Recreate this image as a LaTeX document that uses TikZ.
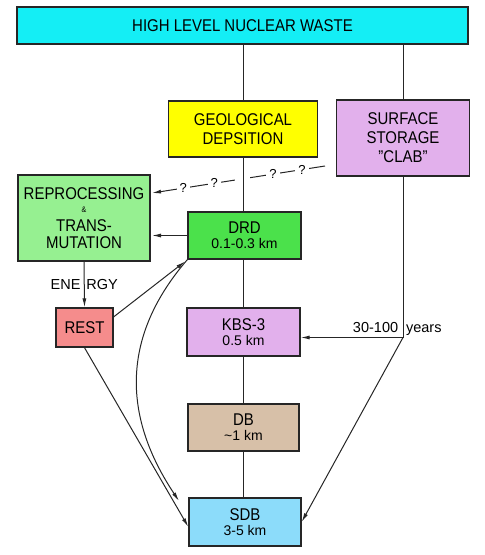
\documentclass[tikz,border=0pt]{standalone}
\usepackage{fontspec}
\setmainfont{Liberation Sans}[FakeStretch=0.88]
\newfontfamily\plainsans{Liberation Sans}
\usepackage{tikz}
\usetikzlibrary{positioning,calc}
\usetikzlibrary{arrows.meta}
\definecolor{wastecyan}{RGB}{20,238,245}
\definecolor{geoyellow}{RGB}{255,255,0}
\definecolor{lilac}{RGB}{226,176,236}
\definecolor{repgreen}{RGB}{150,240,145}
\definecolor{drdgreen}{RGB}{75,225,75}
\definecolor{restred}{RGB}{245,140,140}
\definecolor{dbtan}{RGB}{215,192,168}
\definecolor{sdbblue}{RGB}{140,220,250}
\tikzstyle{box} = [rectangle, draw=black!85, line width=1.3pt, inner sep=0pt,
text centered, align=center, font=\fontsize{17}{19}\selectfont]
\tikzstyle{link} = [line width=1pt, draw=black!85]
\tikzstyle{arrow} = [->,>={Latex[length=9pt,width=4pt]}]
\tikzstyle{qmark} = [fill=white, inner xsep=3pt, inner ysep=1pt, font=\plainsans\fontsize{13}{13}\selectfont]
\tikzstyle{gap} = [fill=white, minimum width=15pt, minimum height=5pt, inner sep=0pt]
\tikzstyle{note} = [font=\plainsans\fontsize{14.5}{17}\selectfont]
\newcommand{\sub}[1]{{\plainsans\fontsize{14}{16}\selectfont #1}}

\begin{document}
\begin{tikzpicture}[x=1pt,y=-1pt]
					\useasboundingbox (0,0) rectangle (485,555);
					\node (waste) at (242.5,25.5) [box, fill=wastecyan, minimum width=451pt, minimum height=37pt] {HIGH LEVEL NUCLEAR WASTE};
					\node (geo) at (243,129) [box, fill=geoyellow, minimum width=149pt, minimum height=56pt] {GEOLOGICAL\\DEPSITION};
					\node (surface) at (403,138) [box, fill=lilac, minimum width=133pt, minimum height=76pt] {SURFACE\\STORAGE\\"CLAB"};
					\node (repro) at (84,218) [box, fill=repgreen, minimum width=132pt, minimum height=86pt] {REPROCESSING\\[-6pt]{\fontsize{8}{9}\selectfont\&}\\[0pt]TRANS-\\[-2pt]MUTATION};
					\node (drd) at (244.5,235.5) [box, fill=drdgreen, minimum width=113pt, minimum height=47pt] {DRD\\[-4pt]\sub{0.1-0.3 km}};
					\node (rest) at (84.5,327.5) [box, fill=restred, minimum width=57pt, minimum height=39pt] {REST};
					\node (kbs) at (243.5,332) [box, fill=lilac, minimum width=113pt, minimum height=48pt] {KBS-3\\[-4pt]\sub{0.5 km}};
					\node (db) at (243.5,427.5) [box, fill=dbtan, minimum width=111pt, minimum height=47pt] {DB\\[-4pt]\sub{\textasciitilde 1 km}};
					\node (sdb) at (245,522) [box, fill=sdbblue, minimum width=112pt, minimum height=48pt] {SDB\\[-4pt]\sub{3-5 km}};
					\coordinate (qs) at (325,166);
					\coordinate (qr) at (152,193);
					\coordinate (bend) at (403,337.5);
					\coordinate (c1) at (179,501);
					% open question: surface storage back to reprocessing
					\draw[link, arrow] (qs) -- node[qmark, pos=0.133] {?} node[qmark, pos=0.30] {?} node[gap, pos=0.474] {} node[qmark, pos=0.64] {?} node[qmark, pos=0.82] {?} (qr);
					\draw[link] (geo.north |- waste.south) -- (geo.north);
					\draw[link] (surface.north |- waste.south) -- (surface.north);
					\draw[link] (geo.south) -- (geo.south |- drd.north);
					\draw[link] (geo.south |- drd.south) -- (geo.south |- kbs.north);
					\draw[link] (geo.south |- kbs.south) -- (geo.south |- db.north);
					\draw[link] (geo.south |- db.south) -- (geo.south |- sdb.north);
					\draw[link, arrow] (drd.west) -- (drd.west -| qr);
					\draw[link, arrow] (repro.south) -- node[note] {ENE\hspace{6pt}RGY} (rest.north);
					\draw[link, arrow, shorten >=3pt] (rest.20) -- (drd.south west);
					\draw[link, arrow] (drd.south west) .. controls (118,340) and (125,420) .. (c1);
					\draw[link, arrow] (rest.south) -- (sdb.185);
					\draw[link] (surface.south) -- (bend);
					\draw[link, arrow] (bend) -- (bend -| kbs.east);
					\draw[link, arrow] (bend) -- (sdb.east);
					\node[note, anchor=south, inner sep=1pt] (years) at (397.3,336.5) {30-100\hspace{8pt}years};
				\end{tikzpicture}
\end{document}
